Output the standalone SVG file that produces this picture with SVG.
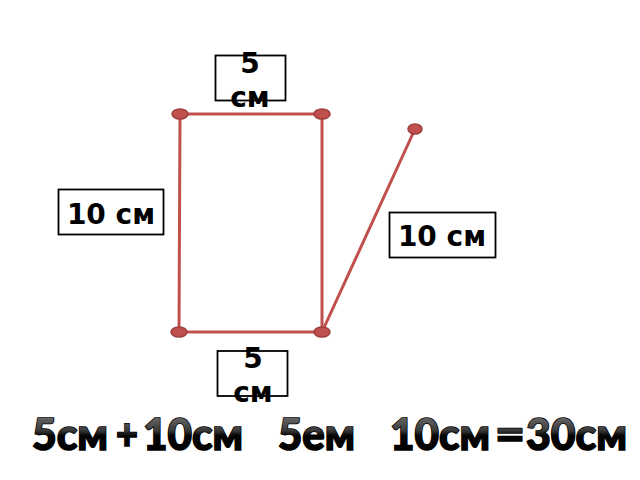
<svg xmlns="http://www.w3.org/2000/svg" width="640" height="480" viewBox="0 0 640 480">
<defs>
<style>
.seg{stroke:#c0504d;stroke-width:3;fill:none;stroke-linecap:round}
.pt{fill:#c0504d;stroke:#9b3d3b;stroke-width:1.5}
.box{fill:#fff;stroke:#000;stroke-width:1.8}
.lbl{font-family:"DejaVu Sans",sans-serif;font-weight:bold;font-size:28px;fill:#000}
.eq{font-family:Lato,"Open Sans",sans-serif;font-weight:900;font-size:44px;fill:url(#g);stroke:#000;stroke-width:1.6;paint-order:stroke}
</style>
<linearGradient id="g" x1="0" y1="0" x2="0" y2="1">
<stop offset="0" stop-color="#8a8a8a"/>
<stop offset="0.45" stop-color="#3a3a3a"/>
<stop offset="0.55" stop-color="#050505"/>
<stop offset="1" stop-color="#000"/>
</linearGradient>
</defs>
<rect width="640" height="480" fill="#fff"/>
<g id="connectors">
<line class="seg" x1="180" y1="114" x2="322" y2="114"/>
<line class="seg" x1="180" y1="114" x2="179" y2="332"/>
<line class="seg" x1="322" y1="114" x2="322" y2="332"/>
<line class="seg" x1="179" y1="332" x2="322" y2="332"/>
<line class="seg" x1="322" y1="332" x2="415" y2="129"/>
</g>
<g id="points">
<ellipse class="pt" cx="180" cy="114" rx="8" ry="5"/>
<ellipse class="pt" cx="322" cy="114" rx="8" ry="5"/>
<ellipse class="pt" cx="179" cy="332" rx="8" ry="5"/>
<ellipse class="pt" cx="322" cy="332" rx="8" ry="5"/>
<ellipse class="pt" cx="415" cy="129" rx="7" ry="5"/>
</g>
<g id="label-top">
<rect class="box" x="215.5" y="55.5" width="70" height="45"/>
<text class="lbl" x="250" y="73" text-anchor="middle">5</text>
<text class="lbl" x="250" y="107" text-anchor="middle">см</text>
</g>
<g id="label-bottom">
<rect class="box" x="217.5" y="351" width="70" height="45"/>
<text class="lbl" x="253" y="368" text-anchor="middle">5</text>
<text class="lbl" x="253" y="402" text-anchor="middle">см</text>
</g>
<g id="label-left">
<rect class="box" x="58.5" y="189.5" width="105" height="45"/>
<text class="lbl" x="111" y="224" text-anchor="middle">10 см</text>
</g>
<g id="label-right">
<rect class="box" x="389.5" y="212.5" width="106" height="45"/>
<text class="lbl" x="442" y="246" text-anchor="middle">10 см</text>
</g>
<g id="equation">
<text class="eq" x="32" y="450" textLength="76" lengthAdjust="spacingAndGlyphs">5см</text>
<text class="eq" x="116" y="450" textLength="22" lengthAdjust="spacingAndGlyphs">+</text>
<text class="eq" x="143" y="450" textLength="100" lengthAdjust="spacingAndGlyphs">10см</text>
<text class="eq" x="278" y="450" textLength="77" lengthAdjust="spacingAndGlyphs">5ем</text>
<text class="eq" x="390" y="450" textLength="100" lengthAdjust="spacingAndGlyphs">10см</text>
<text class="eq" x="495" y="450" textLength="30" lengthAdjust="spacingAndGlyphs">=</text>
<text class="eq" x="526" y="450" textLength="101" lengthAdjust="spacingAndGlyphs">30см</text>
</g>
</svg>
